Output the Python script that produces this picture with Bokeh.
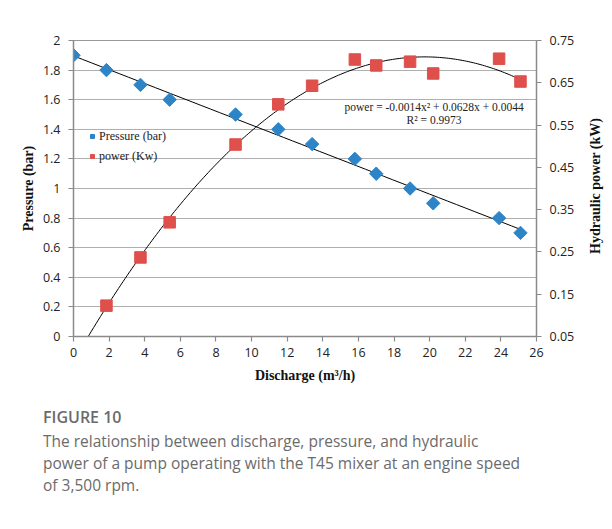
import numpy as np
from bokeh.plotting import figure
from bokeh.models import (LinearAxis, Range1d, FixedTicker, Legend, LegendItem,
                          Label, Div)
from bokeh.layouts import column
from bokeh.embed import file_html
from bokeh.resources import INLINE

# ---- data ----
discharge = [0.0, 1.85, 3.76, 5.4, 9.1, 11.5, 13.4, 15.8, 17.0, 18.9, 20.2, 23.9, 25.1]
pressure = [1.9, 1.8, 1.7, 1.6, 1.5, 1.4, 1.3, 1.2, 1.1, 1.0, 0.9, 0.8, 0.7]
power_x = [1.85, 3.76, 5.4, 9.1, 11.5, 13.4, 15.8, 17.0, 18.9, 20.2, 23.9, 25.1]
power = [0.123, 0.237, 0.32, 0.504, 0.599, 0.643, 0.705, 0.691, 0.700, 0.672, 0.707, 0.653]
x_ticks = list(range(0, 27, 2))
left_ticks = [0, 0.2, 0.4, 0.6, 0.8, 1, 1.2, 1.4, 1.6, 1.8, 2]
right_ticks = [0.05, 0.15, 0.25, 0.35, 0.45, 0.55, 0.65, 0.75]
right_label = "Hydraulic power (kW)"
equation_text = "power = -0.0014x\u00b2 + 0.0628x + 0.0044"
r2_text = "R\u00b2 = 0.9973"
caption_title = "FIGURE 10"
caption_lines = ["The relationship between discharge, pressure, and hydraulic",
                 "power of a pump operating with the T45 mixer at an engine speed",
                 "of 3,500 rpm."]

BLUE = "#2D84C6"
RED = "#DF4F4B"
TICK_FONT = "Open Sans"
SERIF = "Liberation Serif"

W = 604
H = 400
p = figure(width=W, height=H, output_backend="svg", toolbar_location=None,
           x_range=Range1d(0, 26), y_range=Range1d(0, 2),
           min_border_left=73, min_border_right=68, min_border_top=40,
           min_border_bottom=64)
p.outline_line_color = "#999999"
p.outline_line_width = 1
p.background_fill_color = "white"
p.border_fill_color = "white"

# secondary range: power axis 0.05..0.75 maps onto pressure 0..2
p.extra_y_ranges = {"pw": Range1d(0.05, 0.75)}

# grid
p.xgrid.visible = False
p.ygrid.ticker = FixedTicker(ticks=left_ticks)
p.ygrid.grid_line_color = "#AFAFAF"
p.ygrid.grid_line_width = 1.2

def style_axis(ax):
    ax.axis_line_color = "#8A8A8A"
    ax.axis_line_width = 1.5
    ax.major_tick_line_color = "#8A8A8A"
    ax.major_tick_line_width = 1.2
    ax.major_tick_out = 5
    ax.major_tick_in = 0
    ax.minor_tick_line_color = None
    ax.major_label_text_font = TICK_FONT
    ax.major_label_text_font_size = "12.5px"
    ax.major_label_text_color = "#222222"
    ax.axis_label_text_font = SERIF
    ax.axis_label_text_font_style = "bold"
    ax.axis_label_text_font_size = "14px"
    ax.axis_label_text_color = "#111111"

xa = p.xaxis[0]
xa.ticker = FixedTicker(ticks=x_ticks)
xa.axis_label = "Discharge (m\u00b3/h)"
xa.major_label_standoff = 6
xa.axis_label_standoff = 8
style_axis(xa)

ya = p.yaxis[0]
ya.ticker = FixedTicker(ticks=left_ticks)
ya.axis_label = "Pressure (bar)"
ya.major_label_standoff = 8
ya.axis_label_standoff = 4
style_axis(ya)

ra = LinearAxis(y_range_name="pw", ticker=FixedTicker(ticks=right_ticks))
ra.major_label_standoff = 8
style_axis(ra)
p.add_layout(ra, "right")

# trend lines fitted to the data
pc = np.polyfit(discharge, pressure, 1)
px_line = np.linspace(0, max(discharge), 50)
p.line(px_line, np.polyval(pc, px_line), line_color="black", line_width=1)

qc = np.polyfit(power_x, power, 2)
qx_line = np.linspace(0, max(power_x), 200)
p.line(qx_line, np.polyval(qc, qx_line), line_color="black", line_width=1,
       y_range_name="pw")

# markers
r_p = p.scatter(discharge, pressure, marker="square", angle=np.pi / 4,
                size=9.5, fill_color=BLUE, line_color=BLUE)
r_w = p.scatter(power_x, power, marker="square", size=11.5,
                fill_color=RED, line_color=RED, y_range_name="pw")

# legend (small markers, as in the reference)
leg_p = p.scatter([np.nan], [np.nan], marker="square", angle=np.pi / 4, size=6,
                  fill_color=BLUE, line_color=BLUE)
leg_w = p.scatter([np.nan], [np.nan], marker="square", size=8, fill_color=RED,
                  line_color=RED)
legend = Legend(items=[LegendItem(label="Pressure (bar)", renderers=[leg_p]),
                       LegendItem(label="power (Kw)", renderers=[leg_w])],
                location=(14, 172), border_line_color=None,
                background_fill_alpha=0, padding=2, spacing=4,
                glyph_width=10, glyph_height=16, label_height=16,
                label_standoff=2, label_text_font=SERIF,
                label_text_font_size="12px", label_text_color="#222222")
p.add_layout(legend, "center")

# equation labels
eq_x, eq_y = 20.25, 0.578
p.add_layout(Label(x=eq_x, y=eq_y, y_range_name="pw", text=equation_text,
                   text_font=SERIF, text_font_size="11.5px", text_color="#222222",
                   text_align="center", text_baseline="bottom"))
p.add_layout(Label(x=eq_x, y=eq_y, y_range_name="pw", text=r2_text,
                   text_font=SERIF, text_font_size="11.5px", text_color="#222222",
                   text_align="center", text_baseline="top", y_offset=-1))

# caption, plus the right-axis title (reads bottom-to-top, as in the reference)
rl_top = 181 - H  # vertical centre of the right title, relative to caption box
cap = Div(text=(f'<div style="position:relative;font-family:\'Open Sans\';color:#6b6b6b;'
                f'padding-left:38px;padding-top:1px;white-space:nowrap;">'
                f'<div style="position:absolute;left:591px;top:{rl_top}px;'
                f'transform:translate(-50%,-50%) rotate(-90deg);white-space:nowrap;'
                f'font-family:\'{SERIF}\';font-weight:bold;font-size:14px;color:#111111;">'
                f'{right_label}</div>'
                f'<div style="font-size:16px;font-weight:600;margin-bottom:1px;">{caption_title}</div>'
                f'<div style="font-size:15.5px;line-height:22px;">{"<br>".join(caption_lines)}</div></div>'),
          width=W, height=125, styles={"overflow": "visible", "z-index": "10"})

layout = column(p, cap, spacing=0)
open("out.html", "w").write(file_html(layout, INLINE))
